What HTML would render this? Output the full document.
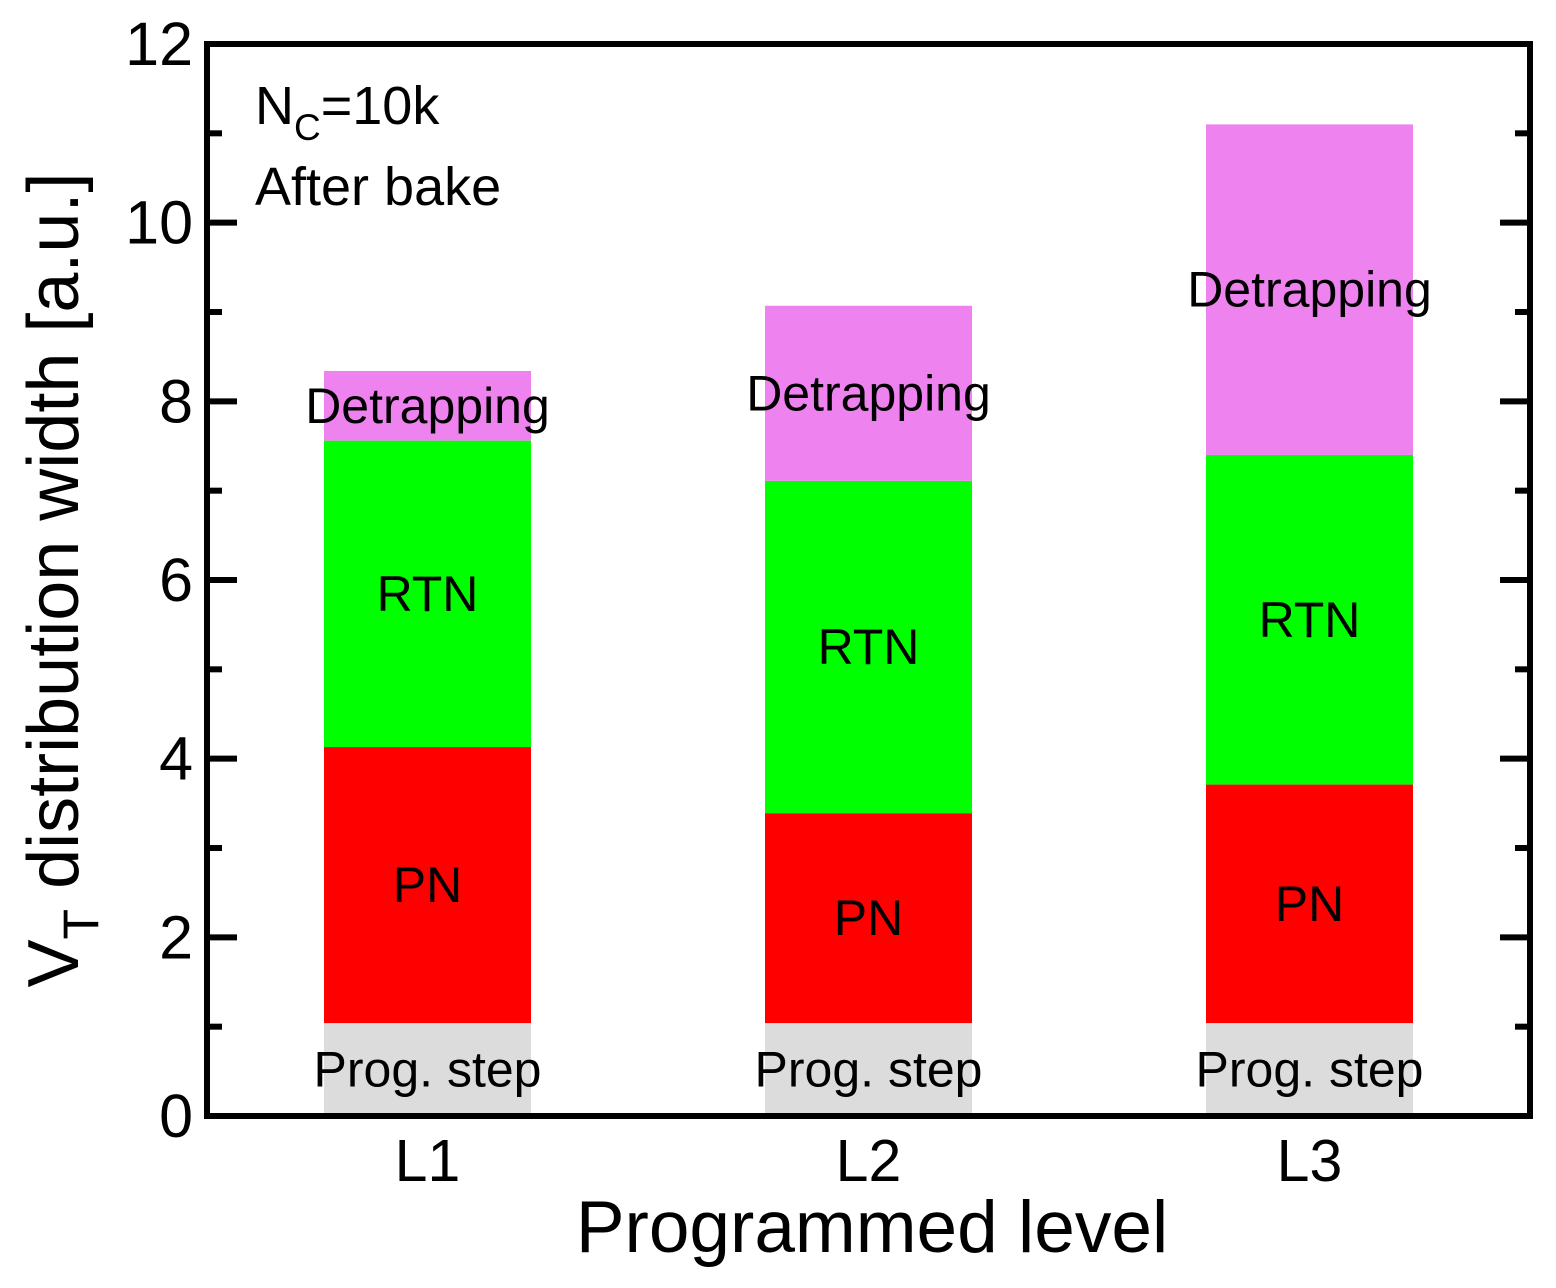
<!DOCTYPE html>
<html><head><meta charset="utf-8"><style>
html,body{margin:0;padding:0;background:#fff;}
svg{display:block;font-family:"Liberation Sans",Arial,sans-serif;}
</style></head><body>
<svg id="chart" width="1556" height="1288" viewBox="0 0 1556 1288"></svg>
<script>
const categories = ["L1","L2","L3"];
const segmentNames = ["Prog. step","PN","RTN","Detrapping"];
const segmentColors = ["#dcdcdc","#ff0000","#00ff00","#ee82ee"];
const progStep = [1.04,1.04,1.04];
const pnValues = [3.09,2.35,2.67];
const rtnValues = [3.43,3.72,3.69];
const detrapValues = [0.78,1.96,3.70];
const yTicks = [0,2,4,6,8,10,12];

const NS="http://www.w3.org/2000/svg";
const svg=document.getElementById('chart');
const L=207,R=1530,T=44,B=1116;
const y=v=>B-(v/12)*(B-T);
const x=i=>L+((i+0.5)/3)*(R-L);
const barW=207;
function mk(tag,attrs,parent){const e=document.createElementNS(NS,tag);for(const k in attrs)e.setAttribute(k,attrs[k]);(parent||svg).appendChild(e);return e;}

const series=[progStep,pnValues,rtnValues,detrapValues];
categories.forEach((c,i)=>{
  let base=0;
  series.forEach((s,j)=>{
    const v=s[i];
    const r=mk('rect',{x:x(i)-barW/2,y:y(base+v),width:barW,height:y(base)-y(base+v),fill:segmentColors[j]});
    
    
    const t=mk('text',{x:x(i),y:(y(base)+y(base+v))/2+17,'text-anchor':'middle','font-size':50,fill:'#000'});
    t.textContent=segmentNames[j];
    
    
    base+=v;
  });
  const cl=mk('text',{x:x(i),y:1181,'text-anchor':'middle','font-size':59});
  cl.textContent=c;
  
  
});

for(let v=0;v<=12;v++){
  const major=v%2===0, len=major?30:15;
  mk('line',{x1:L,x2:L+len,y1:y(v),y2:y(v),stroke:'#000','stroke-width':6});
  mk('line',{x1:R-len,x2:R,y1:y(v),y2:y(v),stroke:'#000','stroke-width':6});
}
yTicks.forEach(v=>{
  const t=mk('text',{x:193,y:y(v)+21,'text-anchor':'end','font-size':61});
  t.textContent=v;
  
  
});
const frame=mk('rect',{x:L,y:T,width:R-L,height:B-T,fill:'none',stroke:'#000','stroke-width':6});



const xt=mk('text',{x:872,y:1252,'text-anchor':'middle','font-size':73});
xt.textContent='Programmed level';



const yt=mk('text',{transform:'translate(78,580) rotate(-90)','text-anchor':'middle','font-size':72});
yt.innerHTML='V<tspan dy="20" font-size="50">T</tspan><tspan dy="-20"> distribution width [a.u.]</tspan>';



const a1=mk('text',{x:255,y:124,'font-size':54});
a1.innerHTML='N<tspan dy="16" font-size="37">C</tspan><tspan dy="-16">=10k</tspan>';


const a2=mk('text',{x:255,y:205,'font-size':54});
a2.textContent='After bake';


</script>
</body></html>
